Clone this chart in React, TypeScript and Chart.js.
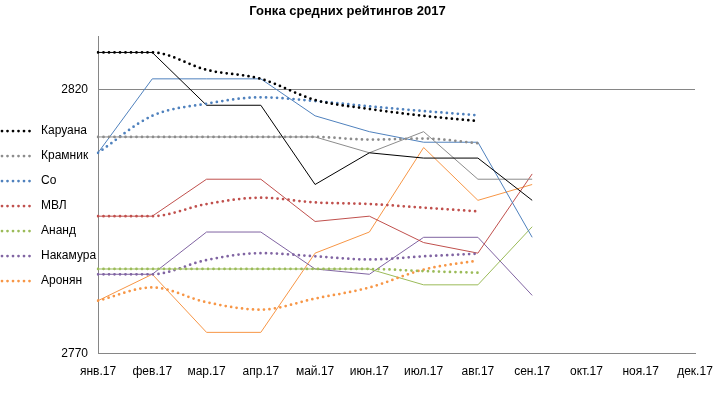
import React, { useEffect, useRef } from "react";
import { Chart, registerables } from "chart.js";

Chart.register(...registerables);

const chartTitle = "Гонка средних рейтингов 2017";
const months = ["янв.17", "фев.17", "мар.17", "апр.17", "май.17", "июн.17", "июл.17", "авг.17", "сен.17", "окт.17", "ноя.17", "дек.17"];
const players = ["Каруана", "Крамник", "Со", "МВЛ", "Ананд", "Накамура", "Аронян"];

// monthly ratings (solid lines), Jan–Sep
const caruanaMonthly = [2827, 2827, 2817, 2817, 2802, 2808, 2807, 2807, 2799];
const kramnikMonthly = [2811, 2811, 2811, 2811, 2811, 2808, 2812, 2803, 2803];
const soMonthly = [2808, 2822, 2822, 2822, 2815, 2812, 2810, 2810, 2792];
const mvlMonthly = [2796, 2796, 2803, 2803, 2795, 2796, 2791, 2789, 2804];
const anandMonthly = [2786, 2786, 2786, 2786, 2786, 2786, 2783, 2783, 2794];
const nakamuraMonthly = [2785, 2785, 2793, 2793, 2786, 2785, 2792, 2792, 2781];
const aronianMonthly = [2780, 2785, 2774, 2774, 2789, 2793, 2809, 2799, 2802];

// average ratings (dotted lines), Jan–Aug
const caruanaAvg = [2827, 2827, 2823.7, 2822, 2818, 2816.3, 2815, 2814];
const kramnikAvg = [2811, 2811, 2811, 2811, 2811, 2810.5, 2810.7, 2809.8];
const soAvg = [2808, 2815, 2817.3, 2818.5, 2817.8, 2816.8, 2815.9, 2815.1];
const mvlAvg = [2796, 2796, 2798.3, 2799.5, 2798.6, 2798.3, 2797.6, 2796.9];
const anandAvg = [2786, 2786, 2786, 2786, 2786, 2786, 2785.6, 2785.3];
const nakamuraAvg = [2785, 2785, 2787.7, 2789, 2788.4, 2787.8, 2788.4, 2788.9];
const aronianAvg = [2780, 2782.5, 2779.7, 2778.3, 2780.4, 2782.5, 2785.9, 2787.6];

const yMin = 2770;
const yMax = 2830;
const yTickValues = [2770, 2820];

const monthlySeries = [caruanaMonthly, kramnikMonthly, soMonthly, mvlMonthly, anandMonthly, nakamuraMonthly, aronianMonthly];
const avgSeries = [caruanaAvg, kramnikAvg, soAvg, mvlAvg, anandAvg, nakamuraAvg, aronianAvg];

const colors = ["#000000", "#8C8C8C", "#4F81BD", "#C0504D", "#9BBB59", "#8064A2", "#F79646"];
const FONT = "'Liberation Sans', Arial, sans-serif";

const leftLegend = {
  id: "leftLegend",
  afterDraw(chart: any) {
    const ctx = chart.ctx;
    ctx.save();
    players.forEach((name, i) => {
      const y = 131 + i * 25;
      ctx.beginPath();
      ctx.strokeStyle = colors[i];
      ctx.lineWidth = 2.75;
      ctx.lineCap = "round";
      ctx.setLineDash([0, 5.5]);
      ctx.moveTo(2, y);
      ctx.lineTo(33, y);
      ctx.stroke();
      ctx.setLineDash([]);
      ctx.fillStyle = "#000";
      ctx.font = `12px ${FONT}`;
      ctx.textBaseline = "middle";
      ctx.textAlign = "left";
      ctx.fillText(name, 41, y);
    });
    ctx.restore();
  },
};

export default function App() {
  const ref = useRef<HTMLCanvasElement>(null);

  useEffect(() => {
    if (!ref.current) return;
    const avgDatasets = players.map((name, i) => ({
      label: name,
      data: avgSeries[i],
      borderColor: colors[i],
      backgroundColor: colors[i],
      borderWidth: 2.75,
      borderDash: [0, 5.5],
      borderCapStyle: "round" as const,
      pointRadius: 0,
      cubicInterpolationMode: "monotone" as const,
      fill: false,
    }));
    const monthlyDatasets = players.map((name, i) => ({
      label: name + " (мес.)",
      data: monthlySeries[i],
      borderColor: colors[i],
      backgroundColor: colors[i],
      borderWidth: 1,
      pointRadius: 0,
      tension: 0,
      fill: false,
    }));

    const chart = new Chart(ref.current, {
      type: "line",
      data: { labels: months, datasets: [...avgDatasets, ...monthlyDatasets] },
      options: {
        animation: false,
        responsive: false,
        layout: { padding: { left: 0, right: 22, top: 0, bottom: 0 } },
        plugins: {
          legend: { display: false },
          tooltip: { enabled: false },
          title: {
            display: true,
            text: chartTitle,
            color: "#000",
            font: { family: FONT, size: 13, weight: "bold" },
            padding: { top: 4, bottom: 17 },
          },
        },
        scales: {
          x: {
            type: "category",
            offset: false,
            grid: { display: false, drawTicks: false },
            border: { display: true, color: "#868686", width: 1 },
            ticks: {
              color: "#000",
              font: { family: FONT, size: 12 },
              padding: 11,
              maxRotation: 0,
              autoSkip: false,
            },
            afterFit(scale: any) {
              scale.height = 42.5;
              scale.paddingLeft = 0;
              scale.paddingRight = 0;
            },
          },
          y: {
            type: "linear",
            min: yMin,
            max: yMax,
            grid: { color: "#868686", drawTicks: false, lineWidth: 1 },
            border: { display: true, color: "#868686", width: 1 },
            afterBuildTicks(scale: any) {
              scale.ticks = yTickValues.map((value) => ({ value }));
            },
            ticks: {
              color: "#000",
              font: { family: FONT, size: 12 },
              padding: 10,
              callback: (v: any) => String(v),
            },
            afterFit(scale: any) {
              scale.width = 98;
              scale.paddingTop = 0;
              scale.paddingBottom = 0;
            },
          },
        },
      },
      plugins: [leftLegend],
    });
    return () => chart.destroy();
  }, []);

  return (
    <div style={{ position: "fixed", left: 0, top: 0, width: 717, height: 396, background: "#fff" }}>
      <canvas ref={ref} width={717} height={396} style={{ display: "block" }} />
    </div>
  );
}
